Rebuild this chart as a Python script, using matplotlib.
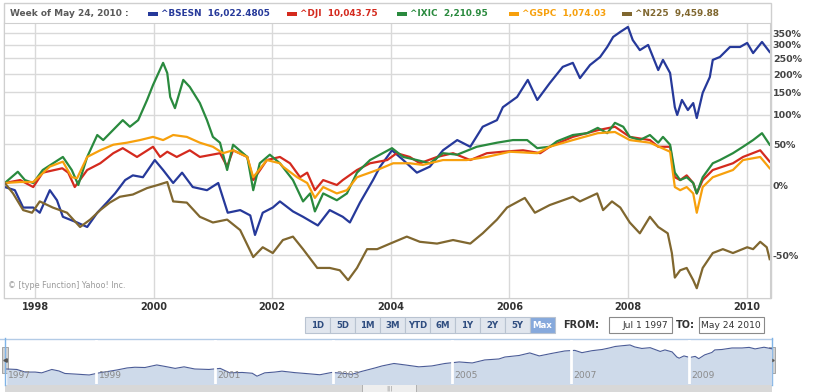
import matplotlib
import matplotlib.pyplot as plt
from matplotlib.patches import Rectangle
from matplotlib.ticker import NullLocator

matplotlib.use('Agg')

# 各指数相对 1997-07-01 的涨跌幅(%)，横轴为小数年份
bsesn_years = [1997.49, 1997.66, 1997.80, 1997.97, 1998.08, 1998.25, 1998.37, 1998.47, 1998.71, 1998.88,
               1999.05, 1999.21, 1999.35, 1999.52, 1999.65, 1999.82, 2000.02, 2000.16, 2000.33, 2000.48,
               2000.66, 2000.90, 2001.09, 2001.25, 2001.46, 2001.63, 2001.71, 2001.84, 2002.01, 2002.13,
               2002.35, 2002.52, 2002.77, 2002.97, 2003.19, 2003.31, 2003.48, 2003.70, 2003.82, 2004.02,
               2004.21, 2004.44, 2004.66, 2004.88, 2005.12, 2005.34, 2005.55, 2005.79, 2005.89, 2006.13,
               2006.31, 2006.47, 2006.68, 2006.90, 2007.07, 2007.19, 2007.36, 2007.53, 2007.65, 2007.75,
               2007.87, 2008.00, 2008.08, 2008.20, 2008.34, 2008.51, 2008.59, 2008.71, 2008.79, 2008.83,
               2008.91, 2009.01, 2009.10, 2009.16, 2009.26, 2009.38, 2009.43, 2009.55, 2009.72, 2009.89,
               2010.01, 2010.11, 2010.26, 2010.39]
bsesn_pct = [-2, -5, -20, -20, -24, -5, -14, -27, -31, -34,
             -24, -16, -8, 5, 10, 8, 28, 16, 2, 13,
             -2, -5, 2, -24, -22, -26, -39, -24, -20, -15,
             -23, -27, -33, -22, -27, -31, -16, 5, 20, 41,
             28, 13, 20, 41, 56, 46, 78, 90, 116, 139,
             183, 132, 174, 222, 235, 188, 228, 255, 292, 333,
             355, 378, 320, 280, 300, 212, 245, 203, 116, 100,
             132, 110, 125, 94, 149, 191, 245, 255, 292, 292,
             308, 269, 312, 273]

dji_years = [1997.49, 1997.75, 1997.97, 1998.13, 1998.46, 1998.56, 1998.67, 1998.88, 1999.10, 1999.32,
             1999.48, 1999.72, 1999.99, 2000.11, 2000.23, 2000.39, 2000.61, 2000.78, 2001.12, 2001.24,
             2001.34, 2001.58, 2001.68, 2001.91, 2002.13, 2002.30, 2002.47, 2002.59, 2002.72, 2002.86,
             2003.09, 2003.19, 2003.43, 2003.65, 2003.94, 2004.10, 2004.32, 2004.49, 2004.78, 2005.05,
             2005.34, 2005.62, 2005.89, 2006.23, 2006.52, 2006.68, 2007.07, 2007.49, 2007.78, 2008.03,
             2008.37, 2008.51, 2008.71, 2008.79, 2008.88, 2008.99, 2009.10, 2009.16, 2009.26, 2009.43,
             2009.77, 2009.94, 2010.23, 2010.39]
dji_pct = [2, 5, -2, 13, 18, 13, -2, 16, 24, 37,
           44, 32, 46, 32, 39, 32, 41, 32, 37, 20,
           41, 32, 5, 28, 32, 24, 8, 13, -5, 5,
           0, 5, 16, 24, 28, 37, 32, 24, 32, 37,
           28, 37, 39, 41, 37, 46, 61, 72, 78, 61,
           56, 46, 46, 8, 5, 10, 2, -8, 5, 16,
           24, 32, 41, 26]

ixic_years = [1997.49, 1997.71, 1997.83, 1997.97, 1998.13, 1998.47, 1998.62, 1998.73, 1998.88, 1999.05,
              1999.15, 1999.48, 1999.60, 1999.74, 1999.89, 1999.99, 2000.16, 2000.23, 2000.28, 2000.36,
              2000.50, 2000.61, 2000.78, 2000.90, 2001.00, 2001.12, 2001.24, 2001.34, 2001.58, 2001.68,
              2001.79, 2001.96, 2002.13, 2002.35, 2002.52, 2002.64, 2002.72, 2002.86, 2003.09, 2003.26,
              2003.43, 2003.65, 2004.02, 2004.21, 2004.44, 2004.66, 2004.88, 2005.12, 2005.45, 2005.79,
              2006.06, 2006.30, 2006.47, 2006.68, 2006.80, 2007.07, 2007.31, 2007.49, 2007.65, 2007.78,
              2007.92, 2008.03, 2008.20, 2008.37, 2008.51, 2008.59, 2008.71, 2008.79, 2008.88, 2008.99,
              2009.10, 2009.16, 2009.26, 2009.43, 2009.55, 2009.77, 2009.94, 2010.11, 2010.26, 2010.39]
ixic_pct = [2, 14, 5, 2, 16, 32, 16, 0, 32, 64,
            56, 90, 78, 90, 132, 169, 235, 203, 139, 114,
            183, 164, 125, 90, 61, 52, 16, 49, 32, -5,
            24, 35, 24, 5, -15, -8, -23, -8, -14, -8,
            13, 28, 44, 32, 28, 24, 37, 35, 46, 52,
            56, 56, 44, 46, 54, 64, 67, 76, 67, 85,
            78, 61, 56, 64, 52, 61, 49, 13, 5, 8,
            2, -8, 8, 24, 28, 37, 46, 56, 67, 49]

gspc_years = [1997.49, 1997.75, 1997.97, 1998.25, 1998.47, 1998.62, 1998.71, 1998.88, 1999.10, 1999.32,
              1999.55, 1999.77, 1999.99, 2000.16, 2000.33, 2000.56, 2000.78, 2001.00, 2001.17, 2001.34,
              2001.58, 2001.68, 2001.91, 2002.13, 2002.18, 2002.42, 2002.59, 2002.72, 2002.86, 2003.09,
              2003.26, 2003.43, 2003.77, 2004.04, 2004.32, 2004.54, 2004.88, 2005.28, 2005.62, 2006.01,
              2006.47, 2006.68, 2007.07, 2007.49, 2007.78, 2008.03, 2008.37, 2008.71, 2008.79, 2008.88,
              2008.99, 2009.10, 2009.16, 2009.26, 2009.43, 2009.77, 2009.94, 2010.23, 2010.39]
gspc_pct = [2, 3, 3, 20, 26, 8, 7, 32, 41, 49,
            52, 56, 61, 56, 64, 61, 52, 46, 37, 41,
            32, 8, 28, 24, 20, 8, 2, -12, -2, -8,
            -5, 8, 16, 24, 24, 22, 28, 28, 32, 39,
            37, 46, 56, 67, 69, 56, 52, 39, -2, -5,
            -2, -8, -24, -2, 8, 16, 28, 32, 18]

n225_years = [1997.49, 1997.63, 1997.80, 1997.95, 1998.08, 1998.30, 1998.54, 1998.76, 1998.93, 1999.10,
              1999.26, 1999.43, 1999.65, 1999.89, 2000.07, 2000.23, 2000.33, 2000.56, 2000.78, 2001.00,
              2001.24, 2001.46, 2001.68, 2001.84, 2002.01, 2002.18, 2002.35, 2002.52, 2002.76, 2002.97,
              2003.14, 2003.28, 2003.43, 2003.60, 2003.77, 2003.99, 2004.27, 2004.49, 2004.78, 2005.05,
              2005.34, 2005.55, 2005.79, 2005.96, 2006.26, 2006.43, 2006.68, 2007.07, 2007.19, 2007.48,
              2007.58, 2007.73, 2007.87, 2008.03, 2008.20, 2008.37, 2008.51, 2008.67, 2008.74, 2008.79,
              2008.88, 2008.99, 2009.10, 2009.16, 2009.26, 2009.43, 2009.60, 2009.77, 2010.01, 2010.11,
              2010.23, 2010.34, 2010.39]
n225_pct = [2, -8, -22, -24, -15, -20, -24, -34, -29, -22,
            -16, -11, -9, -3, 0, 3, -15, -16, -27, -31,
            -29, -36, -51, -46, -49, -42, -40, -47, -56, -56,
            -57, -61, -56, -47, -47, -44, -40, -43, -44, -42,
            -44, -38, -29, -20, -12, -24, -18, -11, -15, -8,
            -22, -15, -20, -31, -38, -27, -34, -38, -49, -60,
            -57, -56, -61, -64, -56, -49, -47, -49, -46, -47,
            -43, -46, -52]

symbols = ['^BSESN', '^DJI', '^IXIC', '^GSPC', '^N225']
last_values = ['16,022.4805', '10,043.75', '2,210.95', '1,074.03', '9,459.88']
colors = ['#26399a', '#d42a1e', '#2a8a3e', '#f7a00c', '#80672f']

y_tick_pct = [-50, 0, 50, 100, 150, 200, 250, 300, 350]
x_tick_years = [1998, 2000, 2002, 2004, 2006, 2008, 2010]
nav_years = [1997, 1999, 2001, 2003, 2005, 2007, 2009]
buttons = ['1D', '5D', '1M', '3M', 'YTD', '6M', '1Y', '2Y', '5Y', 'Max']
date_from = 'Jul 1 1997'
date_to = 'May 24 2010'

series = [(bsesn_years, bsesn_pct), (dji_years, dji_pct), (ixic_years, ixic_pct),
          (gspc_years, gspc_pct), (n225_years, n225_pct)]

W, H = 816, 392
X_MIN, X_MAX = 1997.477, 2010.395

fig = plt.figure(figsize=(W / 100, H / 100), dpi=100)
fig.patch.set_facecolor('white')


def add_axes_px(x0, y0, x1, y1):
    # 像素坐标(左上原点) -> figure 比例
    return fig.add_axes([x0 / W, 1 - y1 / H, (x1 - x0) / W, (y1 - y0) / H])


# 界面层（标题栏、按钮等），像素坐标
ui = add_axes_px(0, 0, W, H)
ui.set_xlim(0, W)
ui.set_ylim(H, 0)
ui.axis('off')

ui.add_patch(Rectangle((4, 3), 767, 295, fc='none', ec='#cfcfcf', lw=1))
ui.text(10, 13.5, 'Week of May 24, 2010 :', fontsize=6.5, fontweight='bold',
        color='#5a5a5a', va='center')

legend_x = [148, 287, 397, 509, 622]
for lx, sym, val, c in zip(legend_x, symbols, last_values, colors):
    ui.add_patch(Rectangle((lx, 11.5), 10, 4.5, fc=c, ec='none'))
    ui.text(lx + 13, 13.5, f'{sym}  {val}', fontsize=6.4, fontweight='bold',
            color=c, va='center')

# 主图
ax = add_axes_px(4, 23, 770, 298)
ax.set_yscale('log')
for (yrs, pct), c in zip(series, colors):
    ax.plot(yrs, [1 + p / 100 for p in pct], color=c, lw=1.6, solid_joinstyle='round')

ax.set_xlim(X_MIN, X_MAX)
ax.set_ylim(0.3268, 4.97)
ax.set_yticks([1 + p / 100 for p in y_tick_pct])
ax.set_yticklabels([f'{p}%' for p in y_tick_pct], fontweight='bold')
ax.yaxis.set_minor_locator(NullLocator())
ax.set_xticks(x_tick_years)
ax.set_xticklabels([str(y) for y in x_tick_years], fontweight='bold')
ax.tick_params(axis='y', which='both', length=0, pad=2, labelsize=6.8, labelcolor='#444444',
               left=False, labelleft=False, right=False, labelright=True)
ax.tick_params(axis='x', length=0, pad=3, labelsize=7, labelcolor='#333333')
ax.grid(True, color='#d9d9d9', lw=1)
ax.set_axisbelow(True)
for sp in ax.spines.values():
    sp.set_color('#cfcfcf')
ax.text(0.005, 0.035, '\u00a9 [type Function] Yahoo! Inc.', transform=ax.transAxes,
        fontsize=5.8, color='#9a9a9a')

# 时间范围按钮
bx = 305
for b in buttons:
    active = b == 'Max'
    ui.add_patch(Rectangle((bx, 317), 25, 16, fc='#86a9dc' if active else '#e1e6ee',
                           ec='#b9c3d1', lw=0.8))
    ui.text(bx + 12.5, 325, b, fontsize=6.2, fontweight='bold', ha='center', va='center',
            color='white' if active else '#2f4d80')
    bx += 25

ui.text(563, 325, 'FROM:', fontsize=7, fontweight='bold', color='#333333', va='center')
ui.add_patch(Rectangle((609, 317), 63, 16, fc='white', ec='#8a8a8a', lw=0.8))
ui.text(668, 325, date_from, fontsize=6.6, color='#333333', va='center', ha='right')
ui.text(676, 325, 'TO:', fontsize=7, fontweight='bold', color='#333333', va='center')
to_box = Rectangle((699, 317), 65, 16, fc='white', ec='#8a8a8a', lw=0.8)
ui.add_patch(to_box)
t = ui.text(701, 325, date_to, fontsize=6.6, color='#333333', va='center')
t.set_clip_path(to_box)

# 导航条
ui.plot([0, 772], [338.5, 338.5], color='#b3cbe6', lw=1)
nav = add_axes_px(6, 340, 772, 384)
nav.set_yscale('log')
nav_ratio = [1 + p / 100 for p in bsesn_pct]
nav.fill_between(bsesn_years, nav_ratio, 0.2, color='#cedaea', lw=0)
nav.plot(bsesn_years, nav_ratio, color='#4b5c97', lw=0.8)
nav.set_xlim(X_MIN, X_MAX)
nav.set_ylim(0.364, 6.64)
nav.axis('off')
for i, yr in enumerate(nav_years):
    if i > 0:
        nav.axvline(yr, color='white', lw=2)
    nav.text(max(yr, X_MIN) + 0.04, 0.2, str(yr), transform=nav.get_xaxis_transform(),
             fontsize=6.6, color='#8a8a8a', va='center')

for hx in (5, 772):
    ui.plot([hx, hx], [338, 385], color='#7fb3e6', lw=1)
ui.add_patch(Rectangle((2, 347), 6, 26, fc='#d3d3d3', ec='#9a9a9a', lw=0.6))
ui.add_patch(Rectangle((769, 347), 6, 26, fc='#d3d3d3', ec='#9a9a9a', lw=0.6))
ui.plot([5], [360], marker='<', ms=2.5, color='#555555')
ui.plot([772], [360], marker='>', ms=2.5, color='#555555')

ui.add_patch(Rectangle((5, 385), 767, 7, fc='#d8d8d8', ec='none'))
ui.add_patch(Rectangle((362, 384), 54, 8, fc='#eeeeee', ec='#a8a8a8', lw=0.6))
ui.text(389, 388.5, '|||', fontsize=4.5, color='#999999', ha='center', va='center')

fig.savefig('out.png', dpi=100)
